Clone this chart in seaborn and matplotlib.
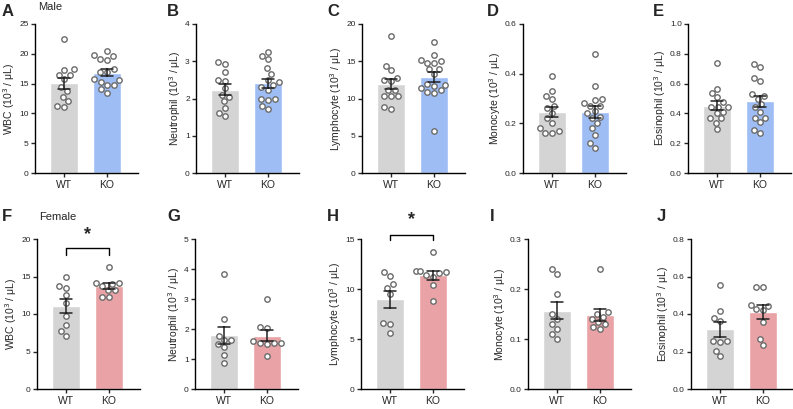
import numpy as np
import pandas as pd
import matplotlib
matplotlib.use('Agg')
import matplotlib.pyplot as plt
import seaborn as sns

# values (10^3 / uL)
groups = ['WT', 'KO']

# male, top row
wbc_m_wt = [22.4, 17.3, 17.4, 16.5, 16.4, 15.8, 14.4, 13.7, 12.8, 12.0, 11.2, 11.0]
wbc_m_ko = [20.4, 19.8, 19.6, 18.9, 19.1, 17.4, 16.9, 16.9, 15.6, 15.7, 15.3, 14.7, 14.8, 14.1, 13.5]
neu_m_wt = [2.93, 2.99, 2.72, 2.50, 2.48, 2.28, 2.10, 2.05, 1.92, 1.74, 1.61, 1.54]
neu_m_ko = [3.24, 3.05, 3.13, 2.81, 2.66, 2.50, 2.43, 2.37, 2.30, 2.23, 2.00, 1.98, 1.96, 1.80, 1.71]
lym_m_wt = [18.4, 14.4, 13.8, 12.8, 12.5, 12.3, 11.2, 11.2, 10.4, 10.4, 10.4, 8.9, 8.6]
lym_m_ko = [17.6, 15.9, 15.2, 15.1, 14.8, 14.7, 14.0, 13.9, 13.3, 12.0, 11.8, 11.7, 11.4, 11.1, 10.7, 10.9, 5.7]
mon_m_wt = [0.39, 0.31, 0.33, 0.30, 0.27, 0.26, 0.24, 0.22, 0.20, 0.18, 0.16, 0.17, 0.16]
mon_m_ko = [0.48, 0.35, 0.30, 0.295, 0.28, 0.27, 0.27, 0.25, 0.24, 0.225, 0.22, 0.20, 0.18, 0.155, 0.12, 0.10]
eos_m_wt = [0.74, 0.567, 0.538, 0.51, 0.478, 0.444, 0.444, 0.444, 0.411, 0.40, 0.367, 0.367, 0.338, 0.293]
eos_m_ko = [0.73, 0.71, 0.64, 0.62, 0.53, 0.52, 0.50, 0.46, 0.44, 0.41, 0.37, 0.37, 0.34, 0.29, 0.27]

# female, bottom row
wbc_f_wt = [14.9, 13.5, 13.8, 12.5, 11.5, 9.7, 8.6, 7.7, 7.1]
wbc_f_ko = [16.3, 13.7, 14.1, 14.1, 14.0, 13.2, 13.2, 12.3, 12.3]
neu_f_wt = [3.84, 2.33, 1.77, 1.65, 1.62, 1.50, 1.39, 1.13, 0.88]
neu_f_ko = [3.00, 2.08, 2.02, 1.60, 1.55, 1.55, 1.55, 1.49, 1.10]
lym_f_wt = [11.7, 11.3, 10.5, 10.1, 9.5, 6.6, 6.5, 5.6]
lym_f_ko = [13.7, 11.8, 11.8, 11.7, 11.6, 11.4, 11.2, 10.4, 8.8]
mon_f_wt = [0.24, 0.23, 0.19, 0.15, 0.14, 0.13, 0.12, 0.11, 0.10]
mon_f_ko = [0.24, 0.155, 0.15, 0.145, 0.14, 0.135, 0.13, 0.125, 0.12]
eos_f_wt = [0.556, 0.416, 0.377, 0.364, 0.258, 0.252, 0.258, 0.204, 0.176]
eos_f_ko = [0.546, 0.546, 0.45, 0.445, 0.425, 0.42, 0.36, 0.267, 0.235]

wt_color = '#d4d4d4'
male_color = '#9dbdf4'
female_color = '#e9a2a5'

sns.set_style('ticks')
plt.rcParams['font.family'] = ['Liberation Sans', 'DejaVu Sans']

W, H = 793, 409
fig = plt.figure(figsize=(W / 100, H / 100), dpi=100)


def px_axes(left, top, bottom, width=103):
    return fig.add_axes([left / W, 1 - bottom / H, width / W, (bottom - top) / H])


def draw_panel(ax, wt, ko, ko_color, cell, ymax, step, fmt):
    df = pd.DataFrame({'group': ['WT'] * len(wt) + ['KO'] * len(ko),
                       'value': list(wt) + list(ko)})
    sns.barplot(data=df, x='group', y='value', hue='group', order=groups,
                palette={'WT': wt_color, 'KO': ko_color}, saturation=1,
                errorbar='se', capsize=0.28, width=0.65, legend=False,
                err_kws={'color': '#222222', 'linewidth': 1.1}, ax=ax)
    sns.swarmplot(data=df, x='group', y='value', order=groups, color='white',
                  edgecolor='#6b6b6b', linewidth=1.0, size=3.9, ax=ax)
    for line in ax.lines:
        line.set_zorder(5)
    ax.set_xlim(-0.68, 1.72)
    ax.set_ylim(0, ymax)
    ax.set_yticks(np.arange(0, ymax + step / 2, step))
    ax.yaxis.set_major_formatter(matplotlib.ticker.FormatStrFormatter(fmt))
    ax.set_xlabel('')
    ax.set_ylabel(cell + ' (10$^3$ / μL)', fontsize=7.5, labelpad=1.5)
    sns.despine(ax=ax)
    for s in ['left', 'bottom']:
        ax.spines[s].set_linewidth(1.0)
        ax.spines[s].set_color('black')
    ax.tick_params(axis='y', labelsize=6, length=3, width=1.0, pad=1.5)
    ax.tick_params(axis='x', labelsize=7.5, length=3, width=1.0, pad=2)


def bracket(ax, y, drop, star_y):
    ax.plot([0, 0, 1, 1], [y - drop, y, y, y - drop], color='black',
            linewidth=1.0, clip_on=False)
    ax.text(0.5, star_y, '*', ha='center', va='center', fontsize=13,
            fontweight='bold', clip_on=False)


top = [
    ('A', 35, wbc_m_wt, wbc_m_ko, 'WBC', 25, 5, '%d'),
    ('B', 196, neu_m_wt, neu_m_ko, 'Neutrophil', 4, 1, '%d'),
    ('C', 362, lym_m_wt, lym_m_ko, 'Lymphocyte', 20, 5, '%d'),
    ('D', 523, mon_m_wt, mon_m_ko, 'Monocyte', 0.6, 0.2, '%.1f'),
    ('E', 688, eos_m_wt, eos_m_ko, 'Eosinophil', 1.0, 0.2, '%.1f'),
]
bottom = [
    ('F', 37, wbc_f_wt, wbc_f_ko, 'WBC', 20, 5, '%d'),
    ('G', 195, neu_f_wt, neu_f_ko, 'Neutrophil', 5, 1, '%d'),
    ('H', 361, lym_f_wt, lym_f_ko, 'Lymphocyte', 15, 5, '%d'),
    ('I', 528, mon_f_wt, mon_f_ko, 'Monocyte', 0.3, 0.1, '%.1f'),
    ('J', 691, eos_f_wt, eos_f_ko, 'Eosinophil', 0.8, 0.2, '%.1f'),
]

letter_x = {'A': 2, 'B': 167, 'C': 327, 'D': 487, 'E': 653,
            'F': 2, 'G': 167, 'H': 327, 'I': 490, 'J': 657}

axes = {}
for letter, left, wt, ko, cell, ymax, step, fmt in top:
    ax = px_axes(left, 24, 173)
    draw_panel(ax, wt, ko, male_color, cell, ymax, step, fmt)
    axes[letter] = ax
    fig.text(letter_x[letter] / W, 1 - 12 / H, letter, fontsize=12,
             fontweight='bold', va='center', ha='left')

for letter, left, wt, ko, cell, ymax, step, fmt in bottom:
    ax = px_axes(left, 239, 389)
    draw_panel(ax, wt, ko, female_color, cell, ymax, step, fmt)
    axes[letter] = ax
    fig.text(letter_x[letter] / W, 1 - 217 / H, letter, fontsize=12,
             fontweight='bold', va='center', ha='left')

fig.text(38 / W, 1 - 7 / H, 'Male', fontsize=8, va='center', ha='left')
fig.text(39 / W, 1 - 217 / H, 'Female', fontsize=8, va='center', ha='left')

bracket(axes['F'], 18.8, 0.9, 20.6)
bracket(axes['H'], 15.4, 0.5, 16.9)

fig.savefig('out.png', dpi=100)
